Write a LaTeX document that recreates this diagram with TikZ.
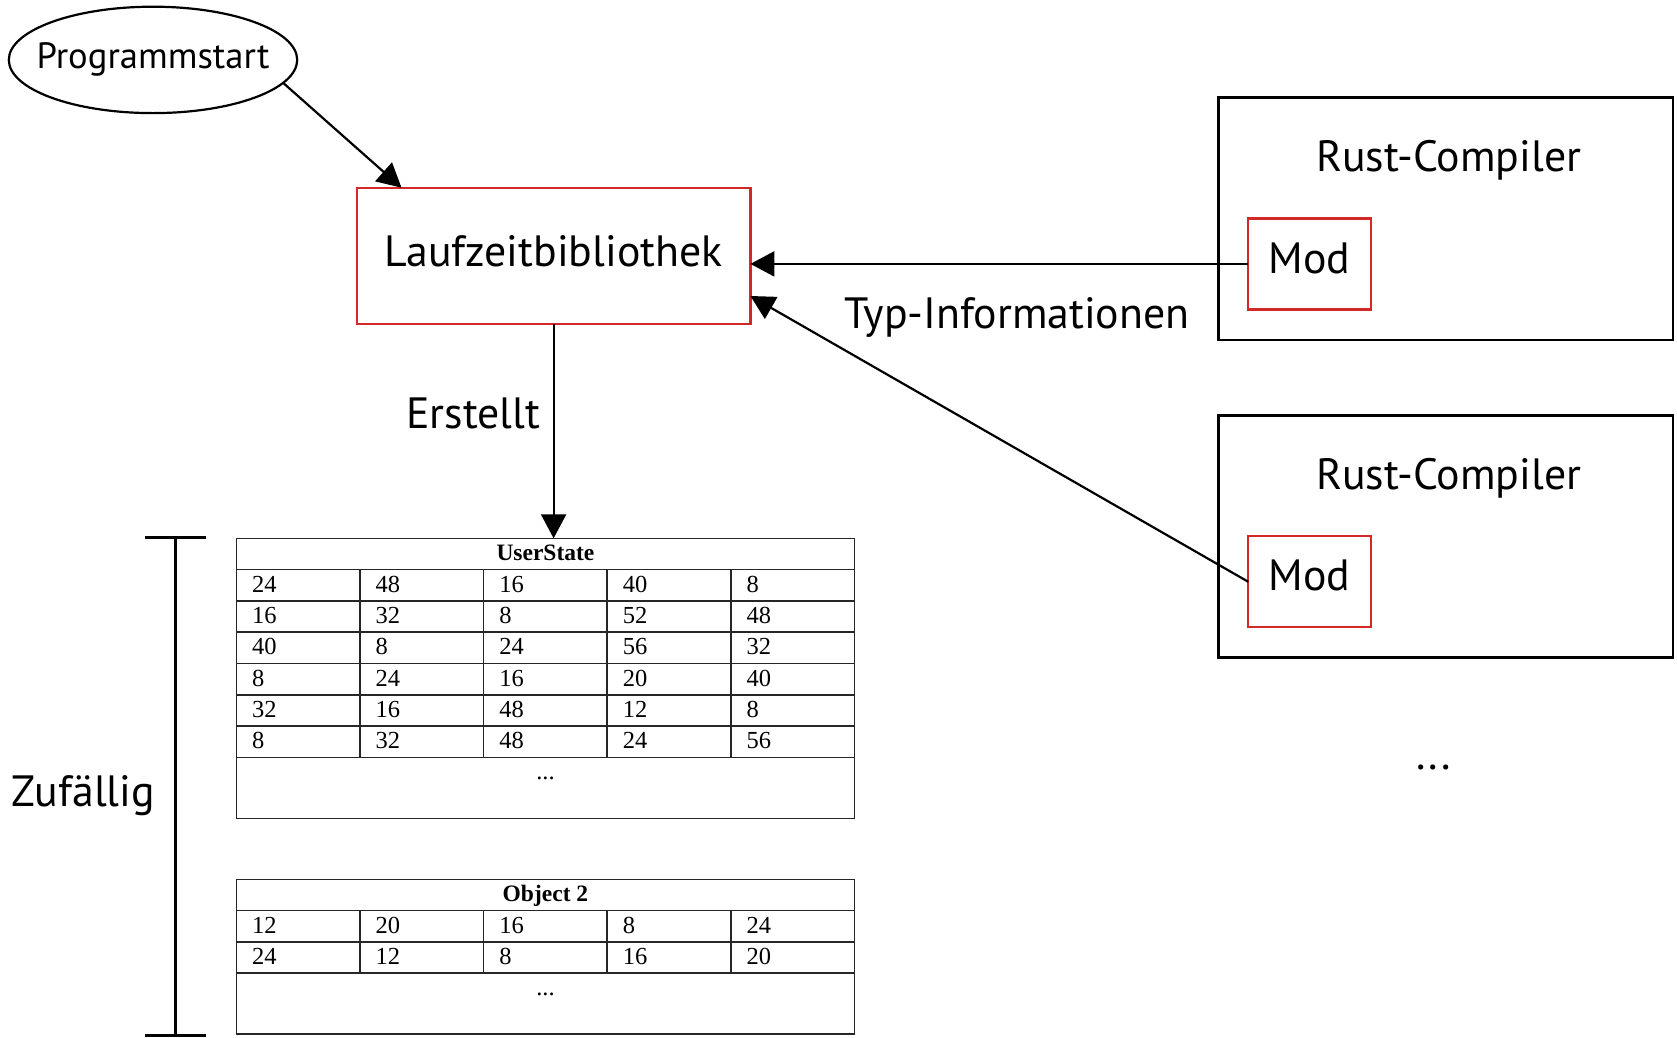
\documentclass[tikz,border=0pt]{standalone}
\usepackage{fontspec}
\setmainfont{PT Sans}
\newfontfamily\tabfont{Liberation Serif}
\usetikzlibrary{arrows.meta,shapes.geometric}
\definecolor{boxred}{RGB}{212,40,40}
\begin{document}
\begin{tikzpicture}[x=1pt,y=-1pt,
  lbl/.style={font=\fontsize{43.8}{52}\selectfont, inner sep=0pt, outer sep=0pt},
  arr/.style={line width=2.2pt, -{Triangle[length=24pt,width=25pt]}},
  redbox/.style={draw=boxred, line width=2.2pt, inner sep=0pt, outer sep=0pt},
  cluster/.style={draw, line width=2.4pt, inner sep=0pt, outer sep=0pt, anchor=north west},
  cell/.style={font=\tabfont\fontsize{24.5}{28}\selectfont, inner sep=0pt, anchor=base west},
  head/.style={font=\tabfont\bfseries\fontsize{23.5}{28}\selectfont, inner sep=0pt, anchor=base},
  tabline/.style={line width=1.6pt, draw=black!85},
  tabbox/.style={draw=black!85, line width=1.6pt, inner sep=0pt, outer sep=0pt, anchor=north west, minimum width=618.1pt}
]
\useasboundingbox (0,0) rectangle (1677,1037);

% Programmstart
\node[ellipse, draw, line width=2.2pt, minimum width=288.4pt, minimum height=106.4pt,
      inner xsep=-30pt, inner ysep=0pt, outer sep=0pt, font=\fontsize{36.6}{44}\selectfont,
      text height=26pt, text depth=9.1pt] (prog) at (153,59.9) {Programmstart};

% Laufzeitbibliothek
\node[redbox, lbl, minimum width=393.6pt, minimum height=136.6pt,
      text height=31pt, text depth=9.6pt] (lz) at (553.6,256) {Laufzeitbibliothek};

% Rust compiler clusters
\node[cluster, minimum width=454.4pt, minimum height=242.3pt] (rc1) at (1218.3,97.4) {};
\node[cluster, minimum width=454.4pt, minimum height=241.7pt] (rc2) at (1218.3,415.6) {};
\node[lbl, anchor=base] (rct1) at (1448.9,171.4) {Rust-Compiler};
\node[lbl, anchor=base] (rct2) at (1448.9,489) {Rust-Compiler};
\node[redbox, lbl, minimum width=122.4pt, minimum height=91pt,
      text height=31pt, text depth=12.8pt] (mod1) at (1309.5,263.9) {Mod};
\node[redbox, lbl, minimum width=122.4pt, minimum height=91pt,
      text height=31pt, text depth=12.8pt] (mod2) at (1309.5,581.8) {Mod};
\node[lbl, anchor=base] (more) at (1433.7,769) {...};

% labels
\node[lbl, anchor=base] (typ) at (1017.2,328.3) {Typ-Informationen};
\node[lbl, anchor=base] (erst) at (473.3,428.3) {Erstellt};
\node[lbl, anchor=base] (zuf) at (83.3,806.7) {Zufällig};

% UserState table
\node[tabbox, minimum height=280pt] (us) at (236.4,538.3) {};
\node[head] (ush) at (545.45,560.3) {UserState};
\foreach \i in {0,...,6} \draw[tabline] (236.4,{569.5+31.3*\i}) -- (854.5,{569.5+31.3*\i});
\foreach \c in {1,...,4} \draw[tabline] ({236.4+123.62*\c},569.5) -- ({236.4+123.62*\c},757.3);
\foreach \row [count=\r] in {{24,48,16,40,8},{16,32,8,52,48},{40,8,24,56,32},{8,24,16,20,40},{32,16,48,12,8},{8,32,48,24,56}} {
  \foreach \v [count=\c] in \row {
    \node[cell] (us-\r-\c) at ({236.4+123.62*(\c-1)+15.5},{569.5+31.3*\r-8.6}) {\v};
  }
}
\node[cell, anchor=base] (usdots) at (545.45,779) {...};

% Object 2 table
\node[tabbox, minimum height=154.9pt] (ob) at (236.4,879.3) {};
\node[head] (obh) at (545.45,901.4) {Object 2};
\foreach \i in {0,...,2} \draw[tabline] (236.4,{910.6+31.3*\i}) -- (854.5,{910.6+31.3*\i});
\foreach \c in {1,...,4} \draw[tabline] ({236.4+123.62*\c},910.6) -- ({236.4+123.62*\c},973.2);
\foreach \row [count=\r] in {{12,20,16,8,24},{24,12,8,16,20}} {
  \foreach \v [count=\c] in \row {
    \node[cell] (ob-\r-\c) at ({236.4+123.62*(\c-1)+15.5},{910.6+31.3*\r-8.6}) {\v};
  }
}
\node[cell, anchor=base] (obdots) at (545.45,995.5) {...};

% bracket
\draw[line width=2.6pt] (145,537.3) -- (206,537.3) (175.7,537.3) -- (175.7,1035.7) (145,1035.7) -- (206,1035.7);

% edges
\coordinate (lzin1) at (401.5,187.7);
\coordinate (lzin2) at (750.4,296);
\draw[arr] (prog.-10.1) -- (lzin1);
\draw[arr] (mod1.west) -- (mod1.west -| lz.east);
\draw[arr] (mod2.west) -- (lzin2);
\draw[arr] (lz.south) -- (lz.south |- us.north);
\end{tikzpicture}
\end{document}
